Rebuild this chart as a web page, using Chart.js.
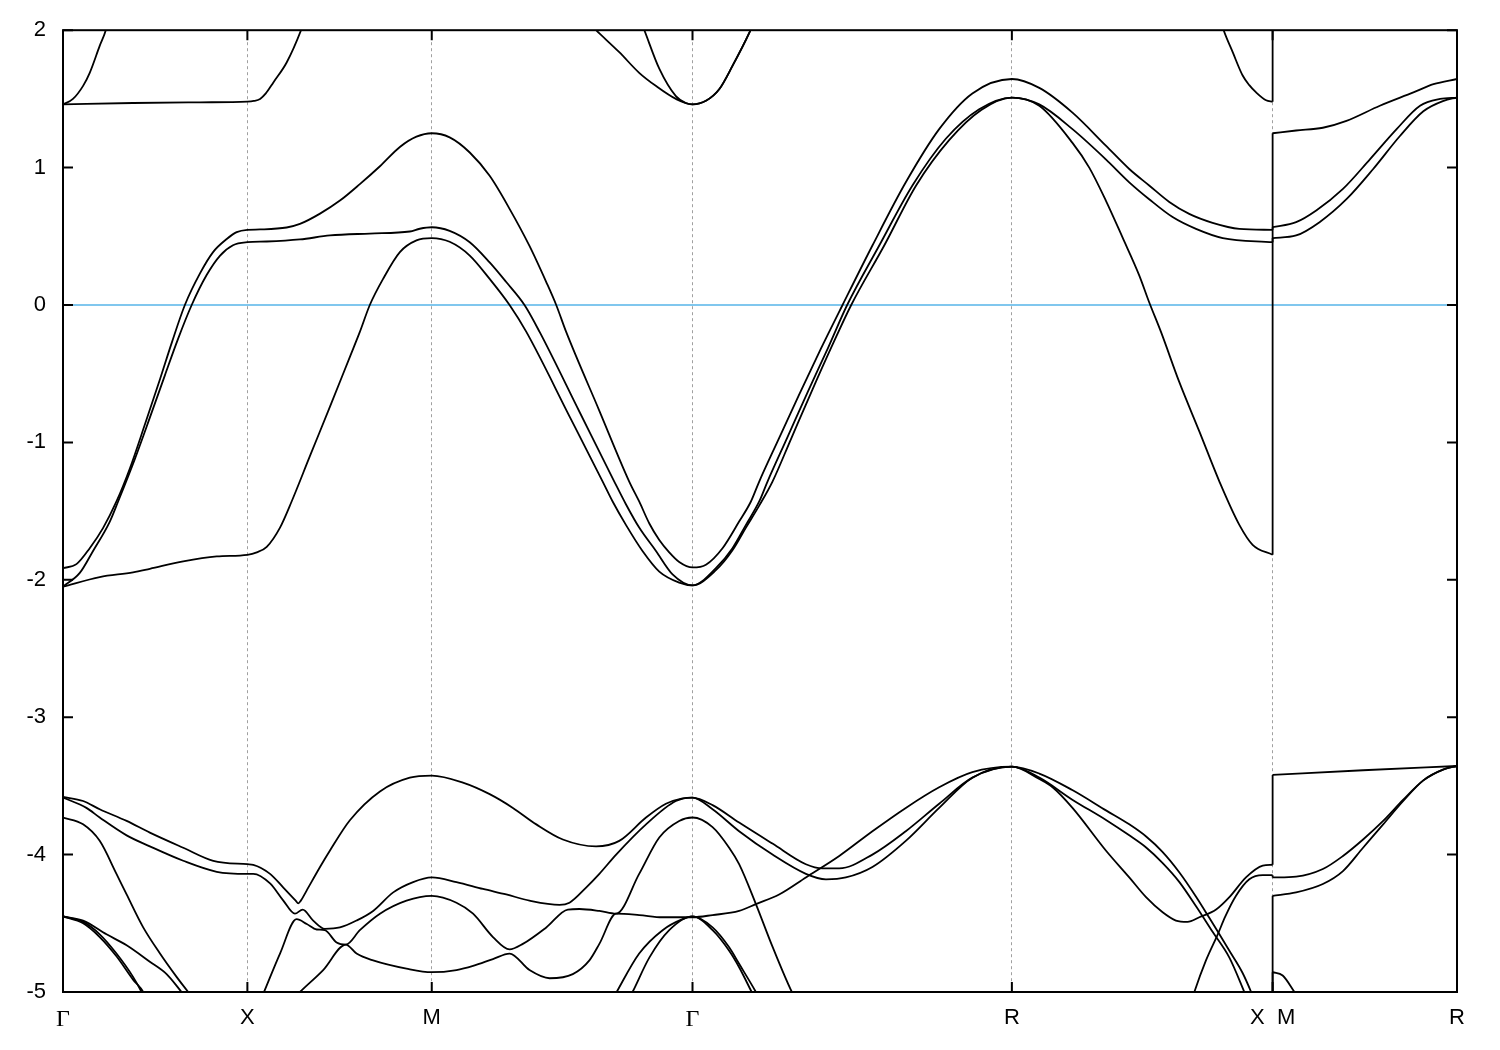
<!DOCTYPE html>
<html>
<head>
<meta charset="utf-8">
<script src="https://cdn.jsdelivr.net/npm/chart.js@4"></script>
<style>
	html, body { margin: 0; padding: 0; background: #ffffff; }
	canvas { display: block; }
</style>
</head>
<body>
<canvas id="bandplot" width="1500" height="1050"></canvas>
<script>
// High-symmetry points along the k-path (cumulative distance, units of 2pi/a)
const kTicks = [0, 1, 2, 3.4142, 5.1463, 6.5605, 7.5605];
const kLabels = ['Γ', 'X', 'M', 'Γ', 'R', 'X  M', 'R'];
const minE = -5; // Energy window (eV)
const maxE = 2;
const fermiLevel = 0;
const lineColor = 'rgba(0,0,0,1)';
const fermiColor = 'rgba(86,180,233,1)';

// Each band: part A runs Γ-X-M-Γ-R-X, part B runs M-R; [k, E] pairs
const bandTop2A = [[0,1.46],[0.054,1.50],[0.109,1.595],[0.145,1.69],[0.199,1.886],[0.232,2.0],[0.30,2.4],[1.0,3.0],[2.0,3.0],[3.0,2.55],[3.08,2.25],[3.153,2.0],[3.234,1.72],[3.324,1.52],[3.378,1.47],[3.4142,1.46],[3.487,1.486],[3.559,1.57],[3.631,1.74],[3.722,1.98],[3.776,2.15],[4.0,2.7],[5.1463,3.2],[6.0,3.0],[6.5605,2.8]];
const bandTop2B = [[6.5605,2.9],[7.5605,2.6]];

const bandTop1A = [[0,1.46],[0.380,1.47],[0.743,1.475],[1.0,1.48],[1.035,1.485],[1.069,1.50],[1.1,1.54],[1.141,1.62],[1.213,1.765],[1.291,2.0],[1.367,2.3],[2.0,2.8],[2.801,2.12],[2.891,2.0],[3.017,1.84],[3.125,1.69],[3.215,1.595],[3.324,1.50],[3.4142,1.46],[3.487,1.486],[3.559,1.57],[3.631,1.74],[3.722,1.98],[3.776,2.15],[4.0,2.6],[5.1463,2.9],[6.25,2.2],[6.295,2.0],[6.344,1.84],[6.398,1.67],[6.434,1.60],[6.471,1.547],[6.525,1.49],[6.5605,1.48]];
const bandTop1B = [[6.5605,2.5],[7.5605,2.5]];

const band1A = [[0,-1.915],[0.073,-1.886],[0.145,-1.77],[0.217,-1.624],[0.290,-1.43],[0.3625,-1.19],[0.444,-0.87],[0.526,-0.54],[0.591,-0.27],[0.661,0],[0.743,0.23],[0.814,0.385],[0.888,0.48],[0.942,0.53],[1.0,0.547],[1.069,0.55],[1.213,0.564],[1.285,0.59],[1.394,0.665],[1.502,0.76],[1.610,0.88],[1.719,1.01],[1.827,1.15],[1.917,1.225],[2.0,1.25],[2.097,1.22],[2.206,1.11],[2.314,0.94],[2.422,0.70],[2.530,0.43],[2.621,0.167],[2.675,0],[2.729,-0.196],[2.909,-0.77],[3.071,-1.285],[3.125,-1.43],[3.180,-1.59],[3.234,-1.71],[3.288,-1.80],[3.342,-1.87],[3.4142,-1.91],[3.487,-1.89],[3.577,-1.77],[3.667,-1.576],[3.731,-1.43],[3.776,-1.285],[3.88,-0.98],[3.99,-0.66],[4.11,-0.32],[4.228,0],[4.390,0.433],[4.571,0.893],[4.752,1.28],[4.932,1.54],[5.1463,1.645],[5.295,1.58],[5.475,1.40],[5.656,1.16],[5.783,0.99],[5.891,0.87],[6.000,0.75],[6.108,0.663],[6.235,0.598],[6.380,0.554],[6.5605,0.547]];
const band1B = [[6.5605,1.25],[6.688,1.27],[6.833,1.29],[6.961,1.34],[7.142,1.45],[7.324,1.547],[7.433,1.607],[7.5605,1.645]];

const band2A = [[0,-2.05],[0.091,-1.95],[0.163,-1.79],[0.254,-1.576],[0.299,-1.43],[0.390,-1.12],[0.471,-0.82],[0.553,-0.51],[0.623,-0.25],[0.698,0],[0.779,0.218],[0.852,0.36],[0.922,0.435],[1.0,0.457],[1.105,0.462],[1.285,0.477],[1.448,0.506],[1.664,0.52],[1.881,0.535],[1.935,0.555],[2.0,0.566],[2.097,0.54],[2.206,0.457],[2.314,0.31],[2.404,0.167],[2.503,0],[2.585,-0.196],[2.801,-0.777],[2.990,-1.285],[3.053,-1.45],[3.125,-1.62],[3.216,-1.79],[3.306,-1.96],[3.4142,-2.04],[3.541,-1.915],[3.631,-1.77],[3.704,-1.6],[3.776,-1.43],[3.821,-1.285],[3.93,-0.96],[4.04,-0.63],[4.15,-0.31],[4.253,0],[4.427,0.433],[4.607,0.87],[4.788,1.21],[4.969,1.425],[5.1463,1.51],[5.295,1.46],[5.475,1.28],[5.656,1.06],[5.783,0.893],[5.891,0.77],[6.018,0.64],[6.145,0.554],[6.290,0.487],[6.5605,0.457]];
const band2B = [[6.5605,0.566],[6.688,0.603],[6.797,0.688],[6.942,0.845],[7.088,1.06],[7.233,1.28],[7.360,1.45],[7.469,1.50],[7.5605,1.51]];

const band3A = [[0,-2.05],[0.199,-1.98],[0.380,-1.946],[0.471,-1.92],[0.652,-1.866],[0.834,-1.83],[1.0,-1.818],[1.051,-1.80],[1.105,-1.76],[1.177,-1.62],[1.240,-1.43],[1.339,-1.10],[1.448,-0.74],[1.556,-0.377],[1.610,-0.196],[1.664,0],[1.736,0.19],[1.827,0.385],[1.917,0.47],[2.0,0.487],[2.097,0.46],[2.206,0.36],[2.314,0.19],[2.422,0],[2.513,-0.196],[2.747,-0.81],[2.927,-1.285],[2.981,-1.43],[3.053,-1.6],[3.143,-1.79],[3.234,-1.94],[3.342,-2.02],[3.4142,-2.04],[3.541,-1.93],[3.631,-1.785],[3.704,-1.62],[3.776,-1.46],[3.848,-1.285],[3.95,-0.97],[4.06,-0.63],[4.17,-0.30],[4.275,0],[4.454,0.433],[4.627,0.87],[4.806,1.2],[4.980,1.42],[5.1463,1.51],[5.295,1.45],[5.475,1.18],[5.566,1.0],[5.656,0.76],[5.747,0.49],[5.837,0.216],[5.891,0.02],[5.955,-0.196],[6.054,-0.56],[6.163,-0.92],[6.272,-1.285],[6.380,-1.6],[6.452,-1.745],[6.5605,-1.818]];
const band3B = [[6.5605,0.487],[6.688,0.506],[6.815,0.603],[6.961,0.77],[7.106,0.99],[7.251,1.23],[7.378,1.41],[7.488,1.486],[7.5605,1.51]];

const band4A = [[0,-3.58],[0.109,-3.61],[0.199,-3.67],[0.345,-3.755],[0.471,-3.84],[0.652,-3.95],[0.815,-4.045],[1.0,-4.07],[1.032,-4.074],[1.123,-4.14],[1.195,-4.24],[1.262,-4.335],[1.276,-4.355],[1.290,-4.335],[1.322,-4.26],[1.394,-4.09],[1.448,-3.97],[1.556,-3.75],[1.719,-3.54],[1.881,-3.44],[2.0,-3.425],[2.169,-3.476],[2.314,-3.56],[2.440,-3.66],[2.567,-3.78],[2.711,-3.89],[2.891,-3.94],[3.017,-3.90],[3.162,-3.73],[3.270,-3.63],[3.360,-3.59],[3.4142,-3.585],[3.523,-3.64],[3.667,-3.767],[3.848,-3.92],[4.029,-4.07],[4.119,-4.10],[4.210,-4.10],[4.390,-4.0],[4.571,-3.83],[4.752,-3.63],[4.932,-3.44],[5.1463,-3.36],[5.295,-3.45],[5.367,-3.51],[5.475,-3.66],[5.656,-3.97],[5.783,-4.166],[5.874,-4.31],[5.964,-4.42],[6.036,-4.48],[6.099,-4.49],[6.163,-4.456],[6.254,-4.40],[6.326,-4.31],[6.416,-4.166],[6.507,-4.08],[6.5605,-4.074]];
const band4B = [[6.5605,-3.42],[7.051,-3.386],[7.5605,-3.355]];

const band5A = [[0,-3.585],[0.127,-3.66],[0.199,-3.73],[0.345,-3.86],[0.471,-3.94],[0.652,-4.045],[0.834,-4.125],[1.0,-4.14],[1.032,-4.14],[1.123,-4.21],[1.195,-4.335],[1.258,-4.43],[1.300,-4.40],[1.357,-4.48],[1.420,-4.54],[1.502,-4.53],[1.592,-4.48],[1.682,-4.41],[1.791,-4.275],[1.899,-4.20],[2.0,-4.166],[2.134,-4.20],[2.278,-4.25],[2.404,-4.29],[2.530,-4.335],[2.693,-4.366],[2.747,-4.35],[2.837,-4.24],[2.909,-4.14],[3.000,-4.0],[3.162,-3.78],[3.324,-3.61],[3.4142,-3.585],[3.523,-3.67],[3.667,-3.83],[3.848,-4.0],[4.029,-4.14],[4.138,-4.18],[4.246,-4.166],[4.390,-4.09],[4.571,-3.90],[4.752,-3.66],[4.932,-3.44],[5.1463,-3.36],[5.295,-3.41],[5.474,-3.53],[5.659,-3.68],[5.783,-3.78],[5.876,-3.87],[5.963,-3.98],[6.055,-4.13],[6.147,-4.31],[6.217,-4.46],[6.272,-4.58],[6.326,-4.70],[6.397,-4.86],[6.444,-5.0],[6.5605,-5.4]];
const band5B = [[6.5605,-4.30],[6.688,-4.275],[6.833,-4.214],[6.942,-4.12],[7.051,-3.95],[7.160,-3.78],[7.269,-3.61],[7.378,-3.46],[7.488,-3.38],[7.5605,-3.355]];

const band6A = [[0,-3.73],[0.109,-3.78],[0.199,-3.90],[0.290,-4.14],[0.345,-4.29],[0.435,-4.53],[0.526,-4.72],[0.616,-4.89],[0.679,-5.0],[0.8,-5.2],[1.0,-5.28],[1.087,-5.01],[1.177,-4.72],[1.267,-4.47],[1.322,-4.505],[1.376,-4.545],[1.420,-4.55],[1.484,-4.64],[1.534,-4.655],[1.610,-4.55],[1.719,-4.43],[1.863,-4.335],[2.0,-4.30],[2.134,-4.35],[2.224,-4.43],[2.332,-4.60],[2.422,-4.69],[2.494,-4.65],[2.621,-4.53],[2.738,-4.40],[2.801,-4.396],[2.909,-4.41],[3.000,-4.43],[3.125,-4.14],[3.234,-3.875],[3.342,-3.755],[3.4142,-3.73],[3.523,-3.80],[3.613,-3.95],[3.667,-4.07],[3.758,-4.36],[3.848,-4.67],[3.953,-5.0],[4.2,-5.6],[5.1463,-6.0],[6.0,-5.6],[6.136,-5.0],[6.199,-4.77],[6.263,-4.58],[6.304,-4.45],[6.362,-4.30],[6.434,-4.18],[6.507,-4.15],[6.5605,-4.15]];
const band6B = [[6.5605,-4.166],[6.688,-4.16],[6.833,-4.105],[6.942,-4.01],[7.051,-3.89],[7.160,-3.755],[7.269,-3.60],[7.378,-3.46],[7.488,-3.38],[7.5605,-3.355]];

const band7A = [[0,-4.45],[0.109,-4.48],[0.236,-4.58],[0.345,-4.66],[0.471,-4.78],[0.562,-4.87],[0.643,-5.0],[0.8,-5.25],[1.0,-5.4],[1.285,-5.0],[1.411,-4.84],[1.534,-4.655],[1.592,-4.72],[1.682,-4.77],[1.863,-4.83],[2.0,-4.856],[2.134,-4.84],[2.224,-4.81],[2.332,-4.76],[2.422,-4.72],[2.530,-4.84],[2.639,-4.90],[2.765,-4.87],[2.855,-4.77],[2.909,-4.65],[3.000,-4.43],[3.125,-4.44],[3.252,-4.456],[3.4142,-4.456],[3.523,-4.44],[3.667,-4.41],[3.758,-4.36],[3.884,-4.29],[4.029,-4.166],[4.210,-4.01],[4.390,-3.83],[4.571,-3.66],[4.752,-3.51],[4.932,-3.40],[5.1463,-3.36],[5.295,-3.44],[5.474,-3.60],[5.659,-3.75],[5.783,-3.86],[5.876,-3.95],[5.963,-4.06],[6.055,-4.20],[6.147,-4.38],[6.234,-4.56],[6.326,-4.75],[6.407,-5.0],[6.5605,-5.5]];
const band7B = [[6.5605,-4.856],[6.615,-4.88],[6.679,-5.0],[7.0,-5.6],[7.5605,-5.8]];

const band8A = [[0,-4.45],[0.109,-4.49],[0.199,-4.58],[0.290,-4.72],[0.380,-4.89],[0.426,-5.0],[0.6,-5.5],[1.0,-5.8],[2.0,-5.7],[2.8,-5.5],[3.003,-5.0],[3.125,-4.72],[3.252,-4.55],[3.360,-4.47],[3.4142,-4.45],[3.523,-4.53],[3.613,-4.675],[3.667,-4.795],[3.758,-5.0],[4.0,-5.6],[5.1463,-6.2],[6.5605,-6.2]];
const band8B = [[6.5605,-5.8],[7.5605,-6.0]];

const band9A = [[0,-4.45],[0.109,-4.50],[0.199,-4.60],[0.290,-4.74],[0.380,-4.91],[0.435,-5.0],[0.6,-5.55],[1.0,-5.9],[2.0,-5.8],[2.85,-5.6],[3.089,-5.0],[3.180,-4.75],[3.288,-4.55],[3.4142,-4.45],[3.523,-4.55],[3.613,-4.70],[3.667,-4.82],[3.735,-5.0],[4.0,-5.7],[5.1463,-6.3],[6.5605,-6.3]];
const band9B = [[6.5605,-5.9],[7.5605,-6.1]];

const bands = [
	[bandTop2A, bandTop2B], [bandTop1A, bandTop1B],
	[band1A, band1B], [band2A, band2B], [band3A, band3B],
	[band4A, band4B], [band5A, band5B], [band6A, band6B],
	[band7A, band7B], [band8A, band8B], [band9A, band9B]
];

// Build datasets: each band branch plus the vertical jump at the X|M break
let bandDataSets = [];
bands.forEach(function (band) {
	bandDataSets.push({ data: band[0], cubicInterpolationMode: 'monotone' });
	bandDataSets.push({ data: band[1], cubicInterpolationMode: 'monotone' });
	bandDataSets.push({ data: [band[0][band[0].length - 1], band[1][0]], tension: 0 });
});
bandDataSets.forEach(function (ds) {
	ds.borderColor = lineColor;
	ds.borderWidth = 1.8;
	ds.pointRadius = 0;
	ds.fill = false;
	ds.capBezierPoints = false;
});
// Fermi level drawn underneath the bands
bandDataSets.push({
	data: [[kTicks[0], fermiLevel], [kTicks[kTicks.length - 1], fermiLevel]],
	borderColor: fermiColor,
	borderWidth: 1.5,
	pointRadius: 0,
	fill: false,
	tension: 0
});

// Frame with inward tick marks, gnuplot style
const framePlugin = {
	id: 'frame',
	afterDraw(chart) {
		const ctx = chart.ctx;
		const a = chart.chartArea;
		const xs = chart.scales.x, ys = chart.scales.y;
		ctx.save();
		ctx.strokeStyle = '#000';
		ctx.lineWidth = 2;
		ctx.beginPath();
		kTicks.slice(1, -1).forEach(function (k) {
			const px = xs.getPixelForValue(k);
			ctx.moveTo(px, a.bottom); ctx.lineTo(px, a.bottom - 10);
			ctx.moveTo(px, a.top); ctx.lineTo(px, a.top + 10);
		});
		ys.ticks.forEach(function (t) {
			const py = ys.getPixelForValue(t.value);
			ctx.moveTo(a.left, py); ctx.lineTo(a.left + 10, py);
			ctx.moveTo(a.right, py); ctx.lineTo(a.right - 10, py);
		});
		ctx.stroke();
		ctx.strokeRect(a.left, a.top, a.right - a.left, a.bottom - a.top);
		ctx.restore();
	}
};

var bandplot = new Chart('bandplot', {
	type: 'line',
	data: { datasets: bandDataSets },
	plugins: [framePlugin],
	options: {
		responsive: false,
		animation: false,
		events: [],
		devicePixelRatio: 1,
		layout: { padding: { left: 0, right: 43, top: 28, bottom: 0 } },
		plugins: {
			legend: { display: false },
			tooltip: { enabled: false }
		},
		scales: {
			x: {
				type: 'linear',
				min: kTicks[0],
				max: kTicks[kTicks.length - 1],
				afterBuildTicks: function (scale) {
					scale.ticks = kTicks.map(function (k) { return { value: k }; });
				},
				afterFit: function (scale) { scale.height = 58; },
				ticks: {
					autoSkip: false,
					maxRotation: 0,
					padding: 13,
					color: '#000',
					font: function (c) {
						if (c.tick && c.tick.label === 'Γ') {
							return { family: 'Liberation Serif', size: 24 };
						}
						return { family: 'Liberation Sans', size: 22 };
					},
					callback: function (value, index) { return kLabels[index]; }
				},
				grid: {
					drawTicks: false,
					lineWidth: 1,
					color: function (c) {
						return (c.index > 0 && c.index < kTicks.length - 1) ? 'rgba(160,160,160,1)' : 'rgba(0,0,0,0)';
					}
				},
				border: { display: false, dash: [3, 3] }
			},
			y: {
				min: minE,
				max: maxE,
				afterFit: function (scale) { scale.width = 63; },
				ticks: {
					stepSize: 1,
					padding: 17,
					color: '#000',
					font: { family: 'Liberation Sans', size: 22 }
				},
				grid: { display: false, drawTicks: false },
				border: { display: false }
			}
		}
	}
});
</script>
</body>
</html>
